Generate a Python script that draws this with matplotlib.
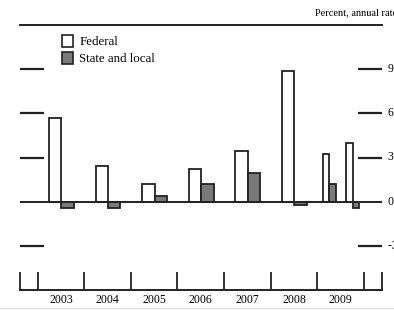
import matplotlib
matplotlib.use("Agg")
import matplotlib.pyplot as plt
from matplotlib.patches import Patch
from matplotlib.lines import Line2D
import numpy as np

# Data
annual_years = [2003, 2004, 2005, 2006, 2007, 2008]
federal_annual = [5.7, 2.4, 1.2, 2.2, 3.45, 8.85]
state_annual = [-0.43, -0.45, 0.4, 1.2, 1.95, -0.25]
half_positions = [2008.75, 2009.25]   # 2009 H1, H2
federal_half = [3.25, 4.0]
state_half = [1.2, -0.45]
year_labels = ["2003", "2004", "2005", "2006", "2007", "2008", "2009"]
right_tick_labels = ["-3", "0", "3", "6", "9"]

plt.rcParams['font.family'] = ['Liberation Serif', 'DejaVu Serif']

fig = plt.figure(figsize=(3.94, 3.11), dpi=100)
ax = fig.add_axes([20/394, 1-290/311, 362/394, 265/311])

w_a = 0.265
w_h = 0.135
xa = np.array(annual_years, dtype=float) + 0.01
xh = np.array(half_positions, dtype=float) + 0.01
ax.bar(xa - w_a/2, federal_annual, width=w_a, color='white', edgecolor='#222222', linewidth=1.3, zorder=3)
ax.bar(xa + w_a/2, state_annual, width=w_a, color='#7a7a7a', edgecolor='#222222', linewidth=1.3, zorder=3)
ax.bar(xh - w_h/2, federal_half, width=w_h, color='white', edgecolor='#222222', linewidth=1.3, zorder=3)
ax.bar(xh + w_h/2, state_half, width=w_h, color='#7a7a7a', edgecolor='#222222', linewidth=1.3, zorder=3)

ax.set_xlim(2002.12, 2009.89)
ax.set_ylim(-6, 12)
ax.axhline(0, color='#222222', linewidth=1.4, zorder=4)

# spines
for s in ['left', 'right']:
    ax.spines[s].set_visible(False)
ax.spines['top'].set_linewidth(1.4)
ax.spines['bottom'].set_linewidth(1.4)
ax.spines['top'].set_color('#222222')
ax.spines['bottom'].set_color('#222222')

# x ticks: separators and labels
seps = [2002.12] + [y - 0.5 for y in range(2003, 2010)] + [2009.5, 2009.89]
ax.set_xticks(seps)
ax.set_xticklabels([])
ax.tick_params(axis='x', which='major', direction='in', length=13, width=1.3, color='#222222', top=False)
ax.set_xticks([y for y in range(2003, 2010)], minor=True)
ax.set_xticklabels(year_labels, minor=True, fontsize=8.5)
ax.tick_params(axis='x', which='minor', length=0, pad=3)

# y ticks
ax.set_yticks([-3, 3, 6, 9])
ax.set_yticklabels([])
ax.tick_params(axis='y', which='major', direction='in', length=17, width=1.6, color='#222222',
               left=True, right=True, labelleft=False, labelright=False)
for v, lab in zip([-3, 0, 3, 6, 9], right_tick_labels):
    ax.text(1.0, v, "  " + lab, transform=ax.get_yaxis_transform(), ha='left', va='center',
            fontsize=8.5, clip_on=False)

ax.text(315/394, 1-13/311, "Percent, annual rate", transform=fig.transFigure, fontsize=7.5,
        ha='left', va='center')

handles = [Patch(facecolor='white', edgecolor='#222222', linewidth=1.2, label='Federal'),
           Patch(facecolor='#7a7a7a', edgecolor='#222222', linewidth=1.2, label='State and local')]
leg = ax.legend(handles=handles, loc='upper left', bbox_to_anchor=(42/362, 1-10/265), frameon=False,
                fontsize=9.3, handlelength=0.85, handleheight=1.0, handletextpad=0.5,
                labelspacing=0.3, borderaxespad=0, borderpad=0)

fig.add_artist(Line2D([0, 1], [1-308/311, 1-308/311], color='#dddddd', linewidth=1,
                      transform=fig.transFigure))

fig.savefig("out.png", dpi=100)
